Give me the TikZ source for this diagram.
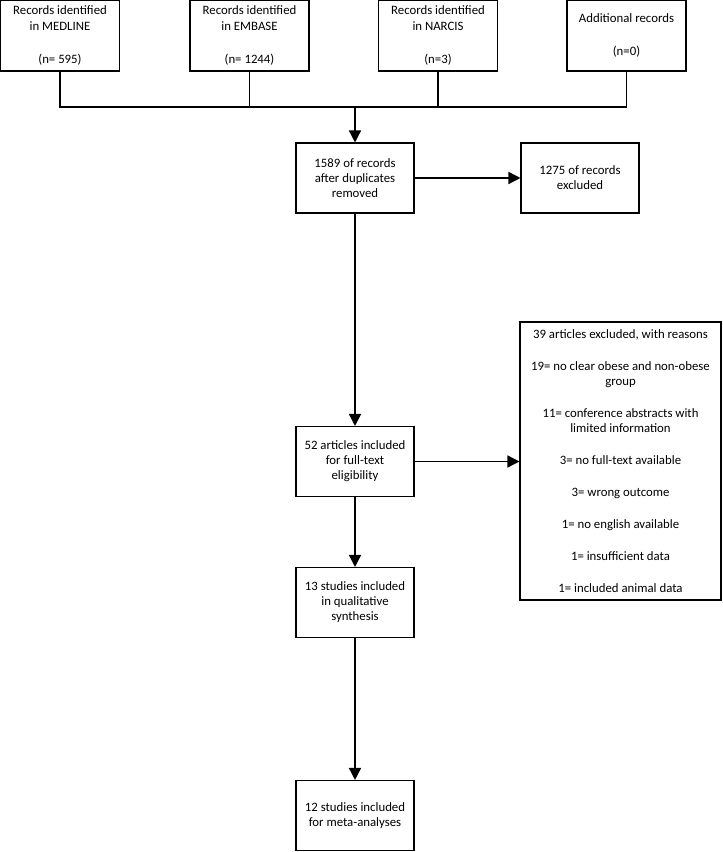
\documentclass[tikz,border=0pt]{standalone}
\usepackage{fontspec}
\setmainfont{Carlito}
\usetikzlibrary{arrows.meta,positioning}
\tikzset{
  bx/.style={draw,line width=0.8pt,align=center,inner sep=0pt,minimum width=88.5pt,minimum height=52.5pt,font=\fontsize{9.6}{11.25}\selectfont},
  topbx/.style={bx,minimum width=89.25pt,minimum height=53.25pt,font=\fontsize{9.6}{12}\selectfont},
  ar/.style={-{Triangle[length=9pt,width=9pt]},line width=1.1pt},
  ln/.style={line width=1.1pt}
}
\begin{document}
\begin{tikzpicture}[x=0.75pt,y=-0.75pt]
\useasboundingbox (0,0) rectangle (722,852);
% sources
\node[topbx] (med) at (60,35.5) {Records identified\\in MEDLINE\\[12.75pt](n= 595)};
\node[topbx] (emb) at (249.5,35.5) {Records identified\\in EMBASE\\[12.75pt](n= 1244)};
\node[topbx] (nar) at (438,35.5) {Records identified\\in NARCIS\\[12.75pt](n=3)};
\node[topbx] (add) at (626.5,35.5) {Additional records\\[12.75pt](n=0)};
\coordinate (mrg) at (355,107);
\draw[ln] (med.south) |- (mrg) -| (add.south);
\draw[ln] (emb.south) -- (emb.south |- mrg);
\draw[ln] (nar.south) -- (nar.south |- mrg);
% screening
\node[bx] (dup) at (355,178) {1589 of records\\after duplicates\\removed};
\node[bx] (excl) at (580,178) {1275 of records\\excluded};
\node[bx] (full) at (355,461.5) {52 articles included\\for full-text\\eligibility};
\node[bx,minimum width=150.75pt,minimum height=208.5pt] (reas) at (620.5,461) {39 articles excluded, with reasons\\[12.75pt]
  19= no clear obese and non-obese\\group\\[12.75pt]
  11= conference abstracts with\\limited information\\[12.75pt]
  3= no full-text available\\[12.75pt]
  3= wrong outcome\\[12.75pt]
  1= no english available\\[12.75pt]
  1= insufficient data\\[12.75pt]
  1= included animal data};
\node[bx] (qual) at (355,602.5) {13 studies included\\in qualitative\\synthesis};
\node[bx] (meta) at (355,815.5) {12 studies included\\for meta-analyses};
\draw[ar] (mrg) -- (dup);
\draw[ar] (dup) -- (excl);
\draw[ar] (dup) -- (full);
\draw[ar] (full) -- (full -| reas.west);
\draw[ar] (full) -- (qual);
\draw[ar] (qual) -- (meta);
\end{tikzpicture}
\end{document}
